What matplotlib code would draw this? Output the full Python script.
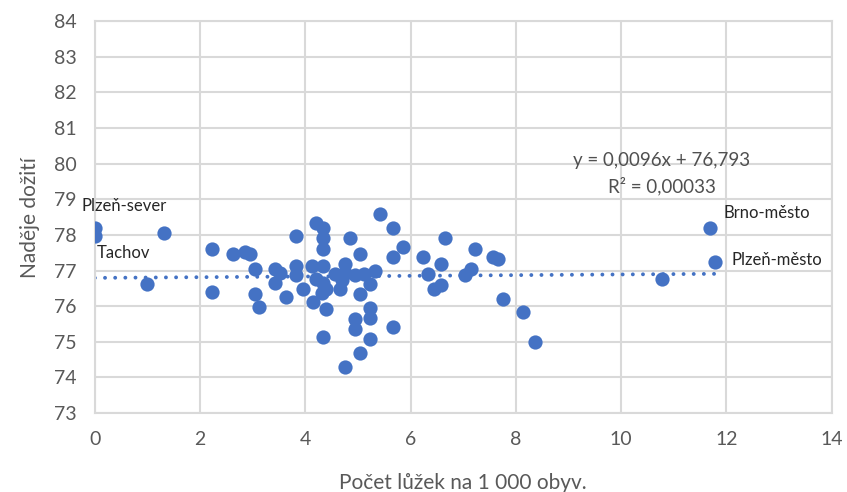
import matplotlib.pyplot as plt
import numpy as np

# beds per 1000 inhabitants vs life expectancy, per district
beds = [0.0, 0.0, 1.0, 1.31, 2.22, 2.22, 2.62, 2.85, 2.94, 3.04, 3.04, 3.11,
        3.42, 3.51, 3.42, 3.64, 3.83, 3.83, 3.83, 3.95, 4.12, 4.14, 4.21, 4.33,
        4.33, 4.33, 4.33, 4.21, 4.33, 4.4, 4.31, 4.4, 4.33, 4.56, 4.75, 4.75,
        4.69, 4.65, 4.75, 4.84, 4.94, 4.94, 4.94, 5.03, 5.03, 5.03, 5.12, 5.22,
        5.22, 5.22, 5.22, 5.33, 5.41, 5.66, 5.66, 5.66, 5.85, 6.23, 6.32, 6.45,
        6.57, 6.57, 6.66, 7.04, 7.14, 7.23, 7.57, 7.65, 7.76, 8.14, 8.37, 10.78,
        11.69, 11.79]
life = [78.2, 77.98, 76.62, 78.06, 77.61, 76.4, 77.47, 77.53, 77.47, 77.05, 76.35, 75.98,
        77.05, 76.94, 76.66, 76.26, 77.96, 77.14, 76.86, 76.49, 77.14, 76.12, 78.32, 78.2,
        77.9, 77.61, 77.14, 76.77, 76.66, 76.49, 76.38, 75.93, 75.14, 76.91, 77.19, 76.94,
        76.72, 76.49, 74.3, 77.9, 76.86, 75.65, 75.36, 77.47, 76.35, 74.69, 76.91, 76.63,
        75.95, 75.67, 75.08, 77.0, 78.6, 78.18, 77.39, 75.42, 77.67, 77.39, 76.91, 76.49,
        76.6, 77.19, 77.9, 76.88, 77.05, 77.61, 77.39, 77.33, 76.21, 75.84, 75.0, 76.77,
        78.18, 77.25]

# labelled districts: (name, index of point, offset in px)
labels = [("Plzeň-sever", 0, (-13, 22)),
          ("Tachov", 1, (2, -17)),
          ("Brno-město", 72, (13, 15)),
          ("Plzeň-město", 73, (16, 2))]

slope = 0.0096
intercept = 76.793
r2 = "0,00033"

blue = "#4472C4"
grey = "#595959"

plt.rcParams['font.family'] = ['Lato', 'DejaVu Sans']

fig = plt.figure(figsize=(8.47, 4.92), dpi=100)
ax = fig.add_axes([0.112, 0.1606, 0.870, 0.7964])

ax.scatter(beds, life, s=105, color=blue, zorder=3, linewidths=0)

xs = np.array([min(beds), max(beds)])
ax.plot(xs, slope * xs + intercept, color=blue, lw=2.8,
        linestyle=(0, (0.01, 2.6)), dash_capstyle='round', zorder=2)

for name, i, off in labels:
    ax.annotate(name, (beds[i], life[i]), xytext=off, textcoords='offset pixels',
                ha='left', va='center', fontsize=12, color='#262626')

ax.text(10.77, 79.72, "y = 0,0096x + 76,793\nR² = " + r2, ha='center', va='center',
        fontsize=13.5, color='#505050', linespacing=1.45)

ax.set_xlim(0, 14)
ax.set_ylim(73, 84)
ax.set_xticks(range(0, 15, 2))
ax.set_yticks(range(73, 85))
ax.grid(True, color='#D9D9D9', lw=1.5, zorder=0)
ax.set_axisbelow(True)
for s in ax.spines.values():
    s.set_color('#D9D9D9')
    s.set_linewidth(1.5)
ax.tick_params(length=0, labelsize=14, labelcolor=grey, pad=13)

ax.set_xlabel("Počet lůžek na 1 000 obyv.", fontsize=15, color=grey, labelpad=18)
ax.set_ylabel("Naděje dožití", fontsize=15, color=grey, labelpad=10)

fig.savefig("out.png", dpi=100)
